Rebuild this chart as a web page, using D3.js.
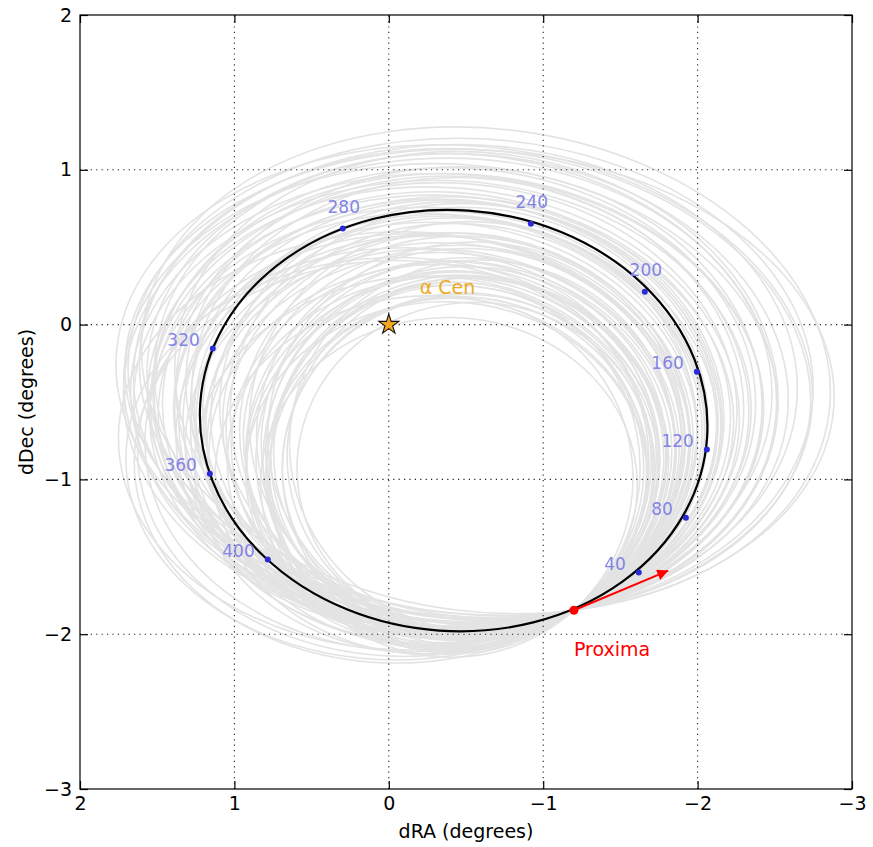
<!DOCTYPE html>
<html>
<head>
<meta charset="utf-8">
<script src="https://cdn.jsdelivr.net/npm/d3@7"></script>
<style>
  body { margin: 0; background: #fff; }
  text { font-family: "DejaVu Sans", sans-serif; }
</style>
</head>
<body>
<svg id="chart"></svg>
<script>
const xTicks = [2, 1, 0, -1, -2, -3];
const yTicks = [2, 1, 0, -1, -2, -3];

// best orbit of Proxima on the sky
const orbitCenter = [-0.42, -0.62];
const orbitAxes = [1.645, 1.36];
const orbitTilt = 4;

// marked positions along the orbit (kyr from now)
const times = [40, 80, 120, 160, 200, 240, 280, 320, 360, 400];
const timeRA = [-1.619, -1.924, -2.06, -1.995, -1.658, -0.92, 0.298, 1.14, 1.159, 0.784];
const timeDec = [-1.602, -1.247, -0.807, -0.304, 0.213, 0.652, 0.62, -0.155, -0.963, -1.518];

const alphaCen = [0, 0];
const proxima = [-1.199, -1.845];
const proximaArrowTip = [-1.81, -1.589];

// sampled orbits: semi-axes, tilt (deg, clockwise) and heading at Proxima (deg)
const cloudA = [
  2.30, 2.26, 2.22, 2.18, 2.15, 2.12, 2.08, 2.05, 2.02, 2.00, 2.24, 2.10,
  1.98, 1.95, 1.92, 1.90, 1.88, 1.86, 1.84, 1.82, 1.80, 1.78, 1.76, 1.74, 1.72, 1.70, 1.69,
  1.68, 1.66, 1.65, 1.64, 1.62, 1.61, 1.60, 1.96, 1.87, 1.79, 1.73, 1.67, 1.63, 1.75, 1.85,
  1.58, 1.56, 1.54, 1.52, 1.50, 1.48, 1.46, 1.44, 1.42, 1.40, 1.38, 1.36, 1.34, 1.32, 1.30,
  1.28, 1.26, 1.24, 1.22, 1.20, 1.18, 1.16, 1.55, 1.45, 1.35, 1.25, 1.50, 1.40, 1.30, 1.22,
  1.20, 1.22, 1.25, 1.18, 1.28, 1.33];
const cloudB = [
  1.50, 1.52, 1.55, 1.50, 1.54, 1.48, 1.50, 1.46, 1.50, 1.45, 1.56, 1.52,
  1.45, 1.48, 1.42, 1.45, 1.40, 1.44, 1.38, 1.42, 1.40, 1.36, 1.40, 1.35, 1.38, 1.30, 1.36,
  1.34, 1.36, 1.32, 1.35, 1.30, 1.33, 1.28, 1.50, 1.46, 1.44, 1.32, 1.38, 1.36, 1.30, 1.35,
  1.30, 1.28, 1.32, 1.26, 1.30, 1.24, 1.28, 1.22, 1.26, 1.20, 1.24, 1.18, 1.22, 1.17, 1.20,
  1.15, 1.18, 1.13, 1.16, 1.12, 1.14, 1.08, 1.36, 1.32, 1.26, 1.20, 1.22, 1.16, 1.12, 1.08,
  1.20, 1.18, 1.22, 1.16, 1.22, 1.25];
const cloudTilt = [
  4, 5, 3, 6, 2, 4, 5, 3, 6, 2, 7, 0,
  4, 3, 5, 2, 4, 6, 3, 4, 2, 5, 4, 0, 6, 0, 3,
  4, 5, 2, 4, 3, 5, 1, 7, 6, 5, 0, 4, 6, 0, 1,
  4, 3, 5, 2, 4, 0, 5, 3, 4, 0, 6, 2, 4, 0, 3,
  5, 2, 0, 4, 2, 0, 3, 6, 5, 4, 6, 0, 0, 2, 1,
  0, 2, 0, 0, 3, 1];
const cloudHeading = [
  8, 10, 11, 9, 13, 14, 12, 16, 13, 18, 7, 17,
  15, 17, 18, 20, 19, 16, 22, 21, 20, 23, 22, 30, 20, 35, 24,
  25, 23, 28, 24, 26, 22, 29, 12, 14, 17, 32, 21, 19, 33, 28,
  25, 27, 24, 29, 26, 32, 25, 28, 27, 33, 26, 30, 28, 34, 30,
  28, 32, 35, 30, 33, 36, 31, 22, 24, 26, 27, 34, 36, 35, 38,
  40, 38, 37, 42, 36, 35];

const width = 873;
const height = 847;
const margin = { top: 15, right: 21, bottom: 58, left: 80 };

const svg = d3.select("#chart").attr("width", width).attr("height", height);

const x = d3.scaleLinear().domain([2, -3]).range([margin.left, width - margin.right]);
const y = d3.scaleLinear().domain([-3, 2]).range([height - margin.bottom, margin.top]);
const kx = Math.abs(x(1) - x(0));
const ky = Math.abs(y(0) - y(1));

// centre of an orbit that passes through Proxima with the given heading
function cloudCenter(a, b, tilt, heading) {
  const th = -tilt * Math.PI / 180;
  const psi = heading * Math.PI / 180 - th;
  const t = Math.atan2(-Math.cos(psi) / a, Math.sin(psi) / b);
  const lx = a * Math.cos(t), ly = b * Math.sin(t);
  const ox = lx * Math.cos(th) - ly * Math.sin(th);
  const oy = lx * Math.sin(th) + ly * Math.cos(th);
  return [proxima[0] + ox, proxima[1] - oy];
}

const cloud = cloudA.map((a, i) => {
  const c = cloudCenter(a, cloudB[i], cloudTilt[i], cloudHeading[i]);
  return { cx: c[0], cy: c[1], a, b: cloudB[i], tilt: cloudTilt[i] };
});

svg.append("defs").append("clipPath").attr("id", "plot-clip")
  .append("rect")
  .attr("x", margin.left).attr("y", margin.top)
  .attr("width", x(-3) - x(2)).attr("height", y(-3) - y(2));

const plot = svg.append("g").attr("clip-path", "url(#plot-clip)");

plot.append("g").attr("class", "cloud")
  .selectAll("ellipse").data(cloud).join("ellipse")
  .attr("transform", (d) => `translate(${x(d.cx)},${y(d.cy)}) rotate(${d.tilt})`)
  .attr("rx", (d) => d.a * kx)
  .attr("ry", (d) => d.b * ky)
  .attr("fill", "none")
  .attr("stroke", "#e3e3e3")
  .attr("stroke-width", 1.6);

// grid
const grid = svg.append("g").attr("class", "grid")
  .attr("stroke", "#222").attr("stroke-width", 1.1).attr("stroke-dasharray", "1.2,4.2");
grid.selectAll("line.gx").data(xTicks.slice(1, -1)).join("line").attr("class", "gx")
  .attr("x1", (d) => x(d)).attr("x2", (d) => x(d))
  .attr("y1", y(-3)).attr("y2", y(2));
grid.selectAll("line.gy").data(yTicks.slice(1, -1)).join("line").attr("class", "gy")
  .attr("y1", (d) => y(d)).attr("y2", (d) => y(d))
  .attr("x1", x(2)).attr("x2", x(-3));

const fg = svg.append("g").attr("clip-path", "url(#plot-clip)");

fg.append("ellipse")
  .attr("transform", `translate(${x(orbitCenter[0])},${y(orbitCenter[1])}) rotate(${orbitTilt})`)
  .attr("rx", orbitAxes[0] * kx)
  .attr("ry", orbitAxes[1] * ky)
  .attr("fill", "none")
  .attr("stroke", "#000")
  .attr("stroke-width", 2.2);

// time markers
const marks = times.map((t, i) => ({ t, ra: timeRA[i], dec: timeDec[i] }));
fg.selectAll("circle.tick-pt").data(marks).join("circle").attr("class", "tick-pt")
  .attr("cx", (d) => x(d.ra)).attr("cy", (d) => y(d.dec))
  .attr("r", 3).attr("fill", "#2b2bd6");
fg.selectAll("text.tick-lbl").data(marks).join("text").attr("class", "tick-lbl")
  .attr("x", (d) => x(d.ra) + (d.dec > 0 ? 1 : -13))
  .attr("y", (d) => y(d.dec) + (d.dec > 0 ? -16 : -3))
  .attr("text-anchor", (d) => (d.dec > 0 ? "middle" : "end"))
  .attr("font-size", 17)
  .attr("fill", "#8484e6")
  .text((d) => d.t);

// alpha Cen
fg.append("path")
  .attr("d", d3.symbol(d3.symbolStar).size(125)())
  .attr("transform", `translate(${x(alphaCen[0])},${y(alphaCen[1])})`)
  .attr("fill", "#f2a51f").attr("stroke", "#111").attr("stroke-width", 1.1);
fg.append("text")
  .attr("x", x(alphaCen[0] - 0.2)).attr("y", y(alphaCen[1] + 0.2))
  .attr("font-size", 19).attr("fill", "#eeaa22")
  .text("α Cen");

// Proxima and its motion
svg.append("defs").append("marker")
  .attr("id", "head").attr("viewBox", "0 0 10 10")
  .attr("refX", 10).attr("refY", 5)
  .attr("markerWidth", 16).attr("markerHeight", 11)
  .attr("markerUnits", "userSpaceOnUse").attr("orient", "auto")
  .append("path").attr("d", "M0,0L10,5L0,10z").attr("fill", "#f00");
fg.append("line")
  .attr("x1", x(proxima[0])).attr("y1", y(proxima[1]))
  .attr("x2", x(proximaArrowTip[0])).attr("y2", y(proximaArrowTip[1]))
  .attr("stroke", "#f00").attr("stroke-width", 2)
  .attr("marker-end", "url(#head)");
fg.append("circle")
  .attr("cx", x(proxima[0])).attr("cy", y(proxima[1]))
  .attr("r", 4.5).attr("fill", "#f00");
fg.append("text")
  .attr("x", x(proxima[0])).attr("y", y(proxima[1]) + 46)
  .attr("font-size", 19).attr("fill", "#f00")
  .text("Proxima");

// axes, ticks pointing inward on all four sides
const fmt = d3.format("d");
svg.append("g").attr("transform", `translate(0,${y(-3)})`)
  .call(d3.axisBottom(x).tickValues(xTicks).tickFormat(fmt).tickSizeInner(-8).tickSizeOuter(0).tickPadding(8));
svg.append("g").attr("transform", `translate(0,${y(2)})`)
  .call(d3.axisTop(x).tickValues(xTicks).tickFormat("").tickSizeInner(-8).tickSizeOuter(0));
svg.append("g").attr("transform", `translate(${x(2)},0)`)
  .call(d3.axisLeft(y).tickValues(yTicks).tickFormat(fmt).tickSizeInner(-8).tickSizeOuter(0).tickPadding(8));
svg.append("g").attr("transform", `translate(${x(-3)},0)`)
  .call(d3.axisRight(y).tickValues(yTicks).tickFormat("").tickSizeInner(-8).tickSizeOuter(0));

svg.selectAll(".domain").remove();
svg.selectAll(".tick line").attr("stroke", "#000").attr("stroke-width", 1.2);
svg.selectAll(".tick text").attr("font-size", 19).attr("fill", "#000")
  .attr("font-family", "DejaVu Sans, sans-serif");

svg.append("rect")
  .attr("x", x(2)).attr("y", y(2))
  .attr("width", x(-3) - x(2)).attr("height", y(-3) - y(2))
  .attr("fill", "none").attr("stroke", "#000").attr("stroke-width", 1.2);

svg.append("text")
  .attr("x", (x(2) + x(-3)) / 2).attr("y", 838)
  .attr("text-anchor", "middle").attr("font-size", 19)
  .text("dRA (degrees)");
svg.append("text")
  .attr("transform", `translate(33,${(y(2) + y(-3)) / 2}) rotate(-90)`)
  .attr("text-anchor", "middle").attr("font-size", 19)
  .text("dDec (degrees)");
</script>
</body>
</html>
